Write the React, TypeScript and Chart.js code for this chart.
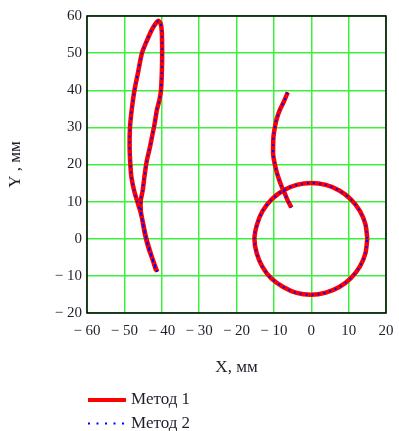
import { useEffect, useRef } from 'react';
import { Chart, registerables } from 'chart.js';
Chart.register(...registerables);

const seriesNames = ['Метод 1', 'Метод 2'];
const xTicks = [-60, -50, -40, -30, -20, -10, 0, 10, 20];
const yTicks = [-20, -10, 0, 10, 20, 30, 40, 50, 60];

const loopX = [-41.2, -42.2, -43.3, -44.3, -45.0, -45.7, -46.6, -47.4, -48.1, -48.4, -48.6, -48.5, -48.0, -47.3, -46.3, -45.3, -44.0, -42.7, -41.6, -40.9, -40.3, -40.0, -39.9, -39.9, -40.0, -40.2, -40.6, -41.3, -41.9, -42.5, -43.2, -44.0, -44.6, -45.1, -45.6, -45.6, -45.1, -44.5, -43.6, -42.4, -41.5];
const loopY = [-8.9, -6.2, -2.8, 0.8, 4.2, 7.3, 10.2, 13.0, 16.5, 20.0, 25.0, 30.0, 35.0, 40.0, 45.0, 50.0, 53.3, 56.2, 58.0, 58.7, 58.0, 56.0, 52.0, 48.0, 44.0, 40.0, 37.5, 34.7, 31.0, 28.0, 24.5, 21.0, 17.0, 13.0, 10.4, 7.5, 4.5, 1.2, -2.3, -5.8, -8.6];

const curveX = [-6.3, -7.3, -8.4, -9.2, -9.7, -10.1, -10.2, -10.2, -9.9, -9.4, -8.8, -7.9, -7.0, -6.3, -5.3];
const curveY = [39.4, 37.0, 34.7, 32.4, 30.2, 27.6, 25.0, 22.8, 20.8, 18.6, 16.5, 14.0, 12.0, 10.3, 8.4];

const circleX = [15, 14.5, 13, 10.6, 7.5, 3.9, 0, -3.9, -7.5, -10.6, -13, -14.5, -15.2, -14.6, -13.1, -10.7, -7.5, -3.9, 0, 3.9, 7.5, 10.6, 13, 14.5, 15];
const circleY = [0, 3.9, 7.5, 10.6, 13, 14.5, 15, 14.5, 13, 10.6, 7.5, 3.9, 0, -3.9, -7.5, -10.7, -13, -14.6, -15.1, -14.5, -13, -10.6, -7.5, -3.9, 0];

function toPoints(): { x: number | null; y: number | null }[] {
  const out: { x: number | null; y: number | null }[] = [];
  const parts: [number[], number[]][] = [[loopX, loopY], [curveX, curveY], [circleX, circleY]];
  parts.forEach(([xs, ys], k) => {
    if (k > 0) out.push({ x: null, y: null });
    xs.forEach((x, i) => out.push({ x, y: ys[i] }));
  });
  return out;
}

const fmt = (v: number) => (v < 0 ? '\u2212 ' + Math.abs(v) : String(v));
const textColor = '#1f1f2b';
const serif = '"Liberation Serif", "Times New Roman", serif';

export default function App() {
  const ref = useRef<HTMLCanvasElement>(null);
  useEffect(() => {
    if (!ref.current) return;
    const framePlugin = {
      id: 'frame',
      beforeDatasetsDraw(chart: any) {
        const { ctx, chartArea: a } = chart;
        ctx.save();
        ctx.strokeStyle = '#000';
        ctx.lineWidth = 1.5;
        ctx.strokeRect(a.left, a.top, a.right - a.left, a.bottom - a.top);
        ctx.restore();
      },
      afterDraw(chart: any) {
        const { ctx } = chart;
        ctx.save();
        ctx.strokeStyle = '#ff0000';
        ctx.lineWidth = 4;
        ctx.beginPath();
        ctx.moveTo(88, 400);
        ctx.lineTo(126, 400);
        ctx.stroke();
        ctx.fillStyle = '#0000ff';
        for (let i = 0; i < 5; i++) ctx.fillRect(88 + i * 8.5, 422.5, 2, 2);
        ctx.fillStyle = textColor;
        ctx.font = '17px ' + serif;
        ctx.textBaseline = 'middle';
        ctx.fillText(seriesNames[0], 131, 400);
        ctx.fillText(seriesNames[1], 131, 423.5);
        ctx.restore();
      },
    };
    const chart = new Chart(ref.current, {
      type: 'scatter',
      data: {
        datasets: [
          {
            label: seriesNames[0],
            data: toPoints(),
            showLine: true,
            borderColor: '#ff0000',
            borderWidth: 4.5,
            pointRadius: 0,
            tension: 0.25,
            spanGaps: false,
            order: 2,
          },
          {
            label: seriesNames[1],
            data: toPoints(),
            showLine: true,
            borderColor: '#0000ff',
            borderWidth: 2,
            borderDash: [2, 4],
            pointRadius: 0,
            tension: 0.25,
            spanGaps: false,
            order: 1,
          },
        ],
      },
      options: {
        responsive: false,
        animation: false,
        layout: { padding: { left: 0, top: 16, right: 13, bottom: 0 } },
        plugins: { legend: { display: false }, tooltip: { enabled: false } },
        scales: {
          x: {
            type: 'linear',
            min: -60,
            max: 20,
            afterBuildTicks: (s: any) => { s.ticks = xTicks.map((v) => ({ value: v })); },
            afterFit: (s: any) => { s.height = 118; },
            ticks: { callback: (v: any) => fmt(Number(v)), color: textColor, font: { family: serif, size: 15 }, padding: 0, maxRotation: 0, autoSkip: false },
            grid: { color: '#3cf03c', lineWidth: 1.5, drawTicks: true, tickLength: 9, tickColor: 'rgba(0,0,0,0)' },
            border: { display: false },
            title: { display: true, text: 'X, мм', color: textColor, font: { family: serif, size: 17 }, padding: { top: 0, bottom: 53 } },
          },
          y: {
            type: 'linear',
            min: -20,
            max: 60,
            afterBuildTicks: (s: any) => { s.ticks = yTicks.map((v) => ({ value: v })); },
            afterFit: (s: any) => { s.width = 87; },
            ticks: { callback: (v: any) => fmt(Number(v)), color: textColor, font: { family: serif, size: 15 }, padding: 5, autoSkip: false },
            grid: { color: '#3cf03c', lineWidth: 1.5, drawTicks: false },
            border: { display: false },
            title: { display: true, text: 'Y , мм', color: textColor, font: { family: serif, size: 17 }, padding: { top: 5, bottom: 0 } },
          },
        },
      },
      plugins: [framePlugin],
    });
    return () => chart.destroy();
  }, []);
  return (
    <div style={{ position: 'fixed', left: 0, top: 0, width: 399, height: 431, background: '#fff' }}>
      <canvas ref={ref} width={399} height={431} style={{ width: 399, height: 431, display: 'block' }} />
    </div>
  );
}
